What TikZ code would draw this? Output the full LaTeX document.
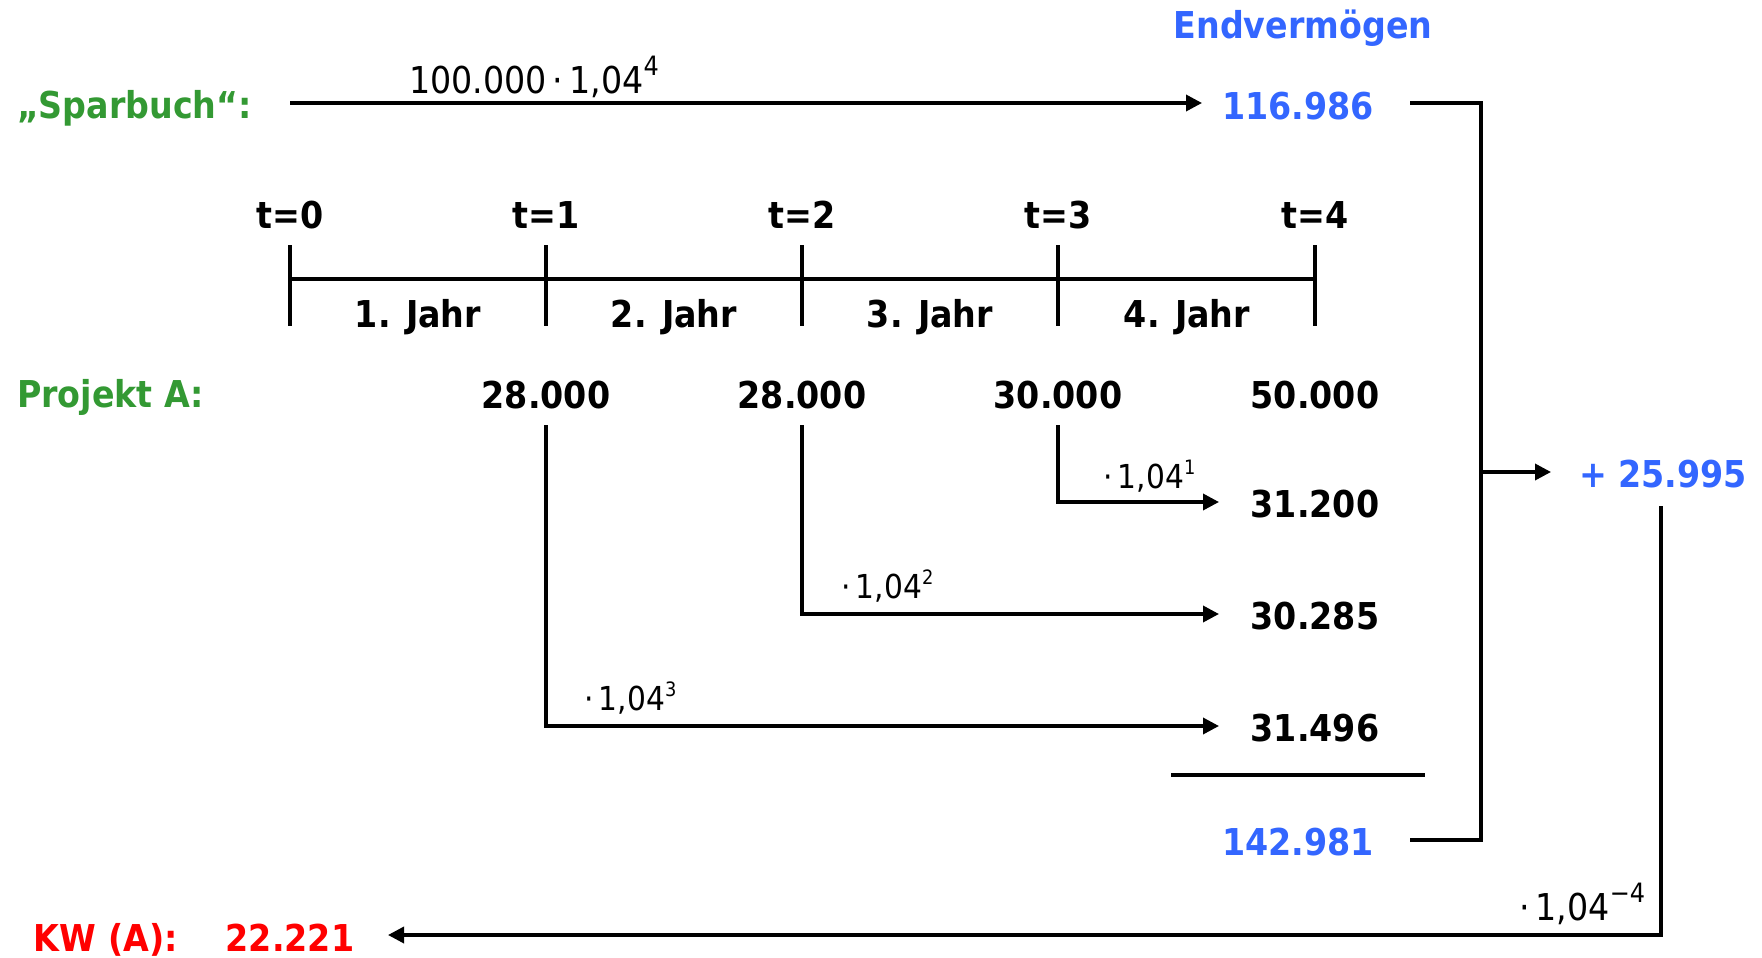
\documentclass[tikz,border=0pt]{standalone}
\usepackage{fontspec}
\setmainfont{DejaVu Sans Condensed}
\usetikzlibrary{arrows.meta}
\definecolor{evblue}{RGB}{51,102,255}
\definecolor{labgreen}{RGB}{51,153,51}
\definecolor{kwred}{RGB}{255,0,0}
\makeatletter
% exponent: #1 = scale of the current size, #2 = raise, #3 = text
\newcommand\powr[3]{\raisebox{#2}{\dimen@=\f@size pt\dimen@=#1\dimen@
  \fontsize{\strip@pt\dimen@}{\strip@pt\dimen@}\selectfont #3}}
\makeatother
\newcommand\expo[1]{\powr{0.72}{0.46em}{#1}}
\newcommand\sexpo[1]{\powr{0.6}{0.4em}{#1}}

\begin{document}
\begin{tikzpicture}[x=1pt,y=-1pt,
  every node/.style={inner sep=0pt,outer sep=0pt},
  big/.style={font=\fontsize{37}{40}\selectfont\bfseries},
  fbig/.style={font=\fontsize{37}{40}\selectfont},
  fsmall/.style={font=\fontsize{33}{36}\selectfont},
  conn/.style={line width=3.5pt},
  arr/.style={line width=3.5pt,-{Triangle[length=16pt,width=16pt]}}]
\useasboundingbox (0,0) rectangle (1762,958);

% savings book line
\node[big,text=evblue,anchor=base] (endv) at (1303,39) {Endvermögen};
\node[big,text=labgreen,anchor=base west] (spar) at (17,118) {„Sparbuch“:};
\node[big,text=evblue,anchor=base] (e1) at (1298,119) {116.986};
\node[fbig,anchor=base west] (fspar) at (409,93) {100.000\,·\,1,04\expo{4}};
\coordinate (s0) at (290,103);
\coordinate (s1) at (1202,103);
\draw[arr] (s0) -- (s1);

% time axis
\foreach \i/\x in {0/290,1/546,2/802,3/1058,4/1315}{
  \node[big,anchor=base] (t\i) at (\x,228) {t=\i};
  \coordinate (ta\i) at (\x,245);
  \coordinate (tb\i) at (\x,326);
  \draw[conn] (ta\i) -- (tb\i);
}
\coordinate (ax0) at (290,279);
\coordinate (ax4) at (1315,279);
\draw[conn] (ax0) -- (ax4);
\foreach \i/\x in {1/418,2/674,3/930,4/1187}{
  \node[big,anchor=base] (j\i) at (\x,327) {\i. Jahr};
}

% project A cash flows
\node[big,text=labgreen,anchor=base west] (proj) at (17,407) {Projekt A:};
\node[big,anchor=base] (c1) at (546,408) {28.000};
\node[big,anchor=base] (c2) at (802,408) {28.000};
\node[big,anchor=base] (c3) at (1058,408) {30.000};
\node[big,anchor=base] (c4) at (1315,408) {50.000};

\node[big,anchor=base] (r1) at (1315,517) {31.200};
\node[big,anchor=base] (r2) at (1315,629) {30.285};
\node[big,anchor=base] (r3) at (1315,741) {31.496};

\coordinate (d3) at (1058,425);
\coordinate (d2) at (802,425);
\coordinate (d1) at (546,425);
\coordinate (p1) at (1219,502);
\coordinate (p2) at (1219,614);
\coordinate (p3) at (1219,726);
\draw[arr] (d3) |- (p1);
\draw[arr] (d2) |- (p2);
\draw[arr] (d1) |- (p3);

\node[fsmall,anchor=base west] (f1) at (1103,488) {·\,1,04\sexpo{1}};
\node[fsmall,anchor=base west] (f2) at (841,598) {·\,1,04\sexpo{2}};
\node[fsmall,anchor=base west] (f3) at (584,710) {·\,1,04\sexpo{3}};

% sum
\coordinate (u0) at (1171,775);
\coordinate (u1) at (1425,775);
\draw[conn] (u0) -- (u1);
\node[big,text=evblue,anchor=base] (e2) at (1298,855) {142.981};

% difference of the final values
\coordinate (b1) at (1410,103);
\coordinate (b2) at (1410,840);
\coordinate (bx) at (1481,472);
\coordinate (bt) at (1551,472);
\draw[conn] (b1) -| (bx) |- (b2);
\draw[arr] (bx) -- (bt);
\node[big,text=evblue,anchor=base] (diff) at (1663,487) {+ 25.995};

% discounting back to t=0
\coordinate (k0) at (1661,506);
\coordinate (k1) at (388,935);
\draw[arr] (k0) |- (k1);
\node[fbig,anchor=base west] (f4) at (1519,920) {·\,1,04\expo{−4}};
\node[big,text=kwred,anchor=base west] (kw) at (34,951) {KW (A):};
\node[big,text=kwred,anchor=base] (kwv) at (290,951) {22.221};
\end{tikzpicture}
\end{document}
